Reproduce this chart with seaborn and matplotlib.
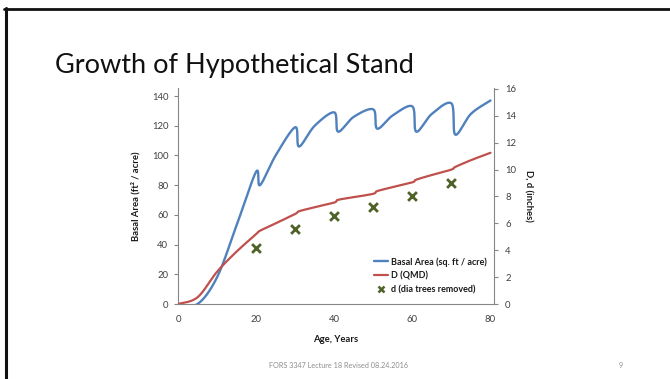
import numpy as np
import pandas as pd
import matplotlib
matplotlib.use("Agg")
import matplotlib.pyplot as plt
from matplotlib.lines import Line2D
import seaborn as sns

# ---- data ----
ba_age = [0, 5, 10, 15, 20, 21, 25, 30, 31, 35, 40, 41, 45, 50, 51, 55, 60, 61, 65, 70, 71, 75, 80]
ba_val = [0, 0, 18, 53, 89, 80, 100, 119, 106, 120, 129, 116, 126, 131, 118, 127, 133, 116, 128, 135, 114, 128, 137]

qmd_age = [0, 5, 10, 15, 20, 21, 25, 30, 31, 35, 40, 41, 45, 50, 51, 55, 60, 61, 65, 70, 71, 75, 80]
qmd_val = [0, 0.5, 2.4, 3.9, 5.2, 5.45, 6.0, 6.7, 6.9, 7.2, 7.55, 7.75, 7.95, 8.2, 8.4, 8.7, 9.05, 9.25, 9.6, 10.0, 10.2, 10.7, 11.25]

cut_age = [20, 30, 40, 50, 60, 70]
cut_dia = [4.2, 5.6, 6.55, 7.2, 8.05, 9.0]

left_ticks = [0, 20, 40, 60, 80, 100, 120, 140]
right_ticks = [0, 2, 4, 6, 8, 10, 12, 14, 16]
x_ticks = [0, 20, 40, 60, 80]

labels = ["Basal Area (sq. ft / acre)", "D (QMD)", "d (dia trees removed)"]


def smooth(xs, ys, n=24):
    """Excel-style smoothed line (cubic Bezier through the points)."""
    pts = np.column_stack([xs, ys]).astype(float)
    out = []
    for i in range(len(pts) - 1):
        p0 = pts[i - 1] if i > 0 else pts[i]
        p1, p2 = pts[i], pts[i + 1]
        p3 = pts[i + 2] if i + 2 < len(pts) else pts[i + 1]
        c1 = p1 + (p2 - p0) / 6
        c2 = p2 - (p3 - p1) / 6
        t = np.linspace(0, 1, n)[:, None]
        seg = (1 - t) ** 3 * p1 + 3 * (1 - t) ** 2 * t * c1 + 3 * (1 - t) * t ** 2 * c2 + t ** 3 * p2
        out.append(seg if i == 0 else seg[1:])
    s = np.vstack(out)
    return pd.DataFrame({"x": s[:, 0], "y": s[:, 1]})


sns.set_style("white")
plt.rcParams["font.family"] = ["Lato", "DejaVu Sans"]

BLUE = "#4F81BD"
RED = "#C0504D"
GREEN = "#4F6228"
SPINE = "#868686"
TICKC = "#404040"

fig = plt.figure(figsize=(6.7, 3.79), dpi=100)
ax = fig.add_axes([178 / 670, 1 - 304 / 379, 316 / 670, 216 / 379])
ax2 = ax.twinx()

ba_df = smooth(ba_age, ba_val)
qmd_df = smooth(qmd_age, qmd_val)
cut_df = pd.DataFrame({"age": cut_age, "d": cut_dia})

sns.lineplot(data=ba_df, x="x", y="y", ax=ax, color=BLUE, lw=1.7, sort=False, estimator=None)
sns.lineplot(data=qmd_df, x="x", y="y", ax=ax2, color=RED, lw=1.6, sort=False, estimator=None)
sns.scatterplot(data=cut_df, x="age", y="d", ax=ax2, marker="x", color=GREEN, s=40, linewidth=2.0)

ax.set_xlim(0, 80.9)
ax.set_ylim(0, 145.4)
ax2.set_ylim(0, 16.07)
ax.set_xticks(x_ticks)
ax.set_yticks(left_ticks)
ax2.set_yticks(right_ticks)

for a in (ax, ax2):
    for s in a.spines.values():
        s.set_color(SPINE)
        s.set_linewidth(0.8)
    a.spines["top"].set_visible(False)
ax.spines["right"].set_visible(False)
ax2.spines["left"].set_visible(False)
ax2.spines["bottom"].set_visible(False)

ax.tick_params(axis="both", labelsize=6.8, colors=SPINE, labelcolor=TICKC, length=3, width=0.8, direction="out")
ax.tick_params(axis="x", pad=5)
ax.tick_params(axis="y", pad=4, left=True)
ax2.tick_params(axis="y", labelsize=6.8, colors=SPINE, labelcolor=TICKC, length=3, width=0.8, direction="out", pad=5, right=True)

ax.set_xlabel("Age, Years", fontsize=6.8, fontweight="bold", color="#1a1a1a", labelpad=8)
ax.set_ylabel("Basal Area (ft² / acre)", fontsize=6.8, fontweight="bold", color="#1a1a1a", labelpad=8)
ax2.set_ylabel("D, d (inches)", fontsize=6.8, fontweight="bold", color="#1a1a1a", rotation=270, labelpad=12)

handles = [
    Line2D([], [], color=BLUE, lw=1.7),
    Line2D([], [], color=RED, lw=1.6),
    Line2D([], [], color=GREEN, lw=0, marker="x", markersize=5, mew=1.8),
]
leg = ax2.legend(handles, labels, loc="lower right", bbox_to_anchor=(1.0, 0.01), frameon=False,
                 fontsize=6.5, handlelength=1.6, handletextpad=0.3, labelspacing=0.55, borderpad=0.3)
for t in leg.get_texts():
    t.set_fontweight("bold")
    t.set_color("#1a1a1a")

fig.text(55 / 670, 1 - 72.7 / 379, "Growth of Hypothetical Stand", fontsize=19.5, fontweight="normal",
         color="#111111", ha="left", va="baseline")
fig.text(339 / 670, 1 - 365 / 379, "FORS 3347 Lecture 18 Revised 08.24.2016", fontsize=5.2,
         color="#8c8c8c", ha="center", va="center")
fig.text(621 / 670, 1 - 365 / 379, "9", fontsize=5.2, color="#8c8c8c", ha="center", va="center")

# slide frame edges
fig.add_artist(Line2D([4 / 670, 1], [1 - 8.5 / 379, 1 - 8.5 / 379], color="#111111", lw=2.0,
                      transform=fig.transFigure))
fig.add_artist(Line2D([5.5 / 670, 5.5 / 670], [0, 1 - 7.5 / 379], color="#111111", lw=2.2,
                      transform=fig.transFigure))

fig.savefig("out.png", dpi=100)
